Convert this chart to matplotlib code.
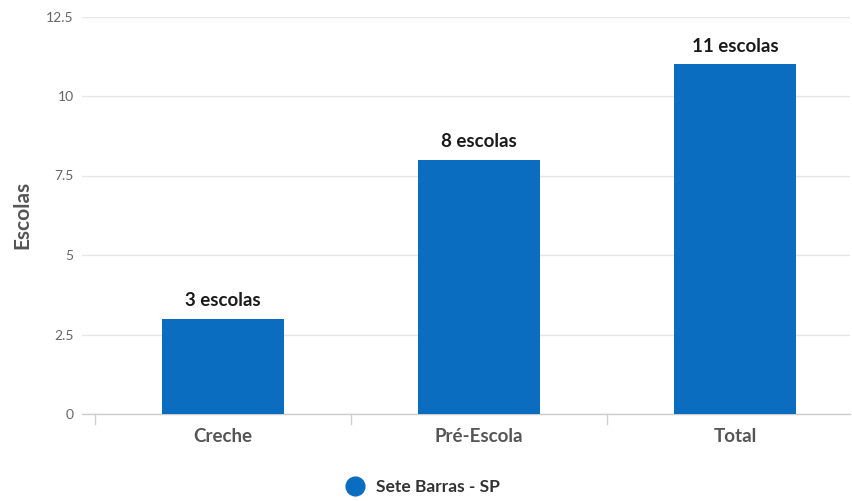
import matplotlib
matplotlib.use("Agg")
import matplotlib.pyplot as plt
from matplotlib.lines import Line2D

categories = ["Creche", "Pré-Escola", "Total"]
values = [3, 8, 11]
series_name = "Sete Barras - SP"
y_ticks = [0, 2.5, 5, 7.5, 10, 12.5]
y_tick_labels = ["0", "2.5", "5", "7.5", "10", "12.5"]

W, H = 852, 501
bar_color = "#0a6dbf"
font = ["Lato", "DejaVu Sans"]

fig = plt.figure(figsize=(W / 100, H / 100), dpi=100)
left, right, bottom, top = 82, 850, 414, 16.5
ax = fig.add_axes([left / W, 1 - bottom / H, (right - left) / W, (bottom - top) / H])

x = list(range(len(categories)))
ax.bar(x, values, width=0.48, color=bar_color, zorder=3)

for xi, v in zip(x, values):
    ax.annotate(f"{v} escolas", (xi, v), xytext=(0, 9), textcoords="offset points",
                ha="center", va="baseline", fontsize=13.5, fontweight="bold",
                color="#1a1a1a", family=font)

px_per_unit = 256
ax.set_xlim(-0.5 - 13 / px_per_unit, -0.5 + (right - 95) / px_per_unit)
ax.set_ylim(0, 12.5)

ax.set_yticks(y_ticks)
ax.set_yticklabels(y_tick_labels, family=font, fontsize=10, color="#666666")
ax.tick_params(axis="y", length=0, pad=6)
ax.yaxis.grid(True, color="#e6e6e6", linewidth=1, zorder=0)

ax.set_xticks(x)
ax.set_xticklabels(categories, family=font, fontsize=13.5, fontweight="bold", color="#555555")
ax.tick_params(axis="x", length=0, pad=10)
for b in [-0.5, 0.5, 1.5]:
    ax.plot([b, b], [0, -0.3], color="#d0d0d0", linewidth=1, clip_on=False, zorder=2)

for s in ["top", "right", "left"]:
    ax.spines[s].set_visible(False)
ax.spines["bottom"].set_color("#cccccc")
ax.spines["bottom"].set_linewidth(1)

ax.set_ylabel("Escolas", family=font, fontsize=15, fontweight="bold", color="#555555", labelpad=10)

handle = Line2D([], [], marker="o", linestyle="none", markersize=13.5,
                markerfacecolor=bar_color, markeredgecolor=bar_color)
fig.legend([handle], [series_name], loc="center", bbox_to_anchor=(419 / W, 1 - 487 / H),
           frameon=False, handletextpad=0.2,
           prop={"family": font, "size": 12.5, "weight": "bold"}, labelcolor="#333333")

fig.savefig("out.png", dpi=100)
